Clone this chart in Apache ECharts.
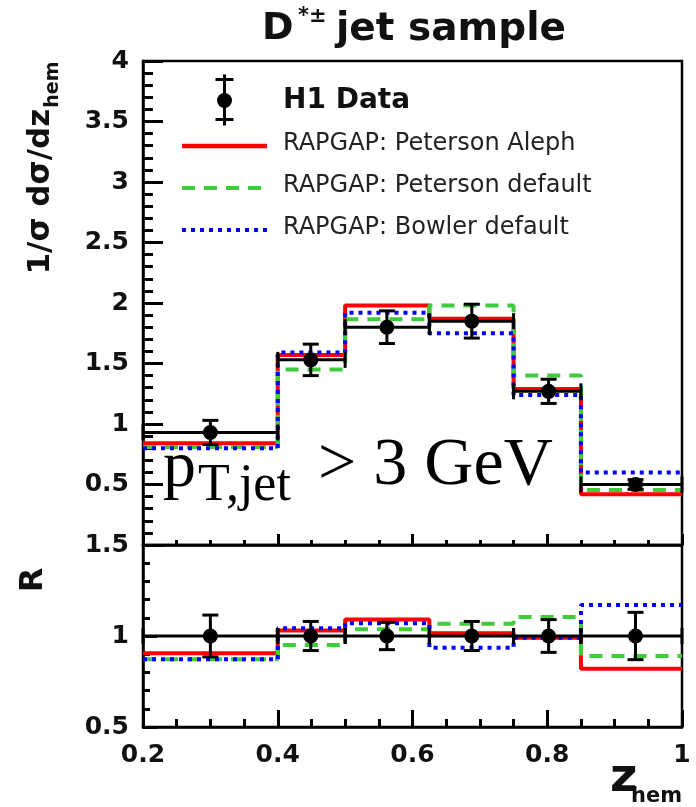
<!DOCTYPE html>
<html>
<head>
<meta charset="utf-8">
<script src="https://cdn.jsdelivr.net/npm/echarts@6/dist/echarts.min.js"></script>
<style>
  html, body { margin: 0; padding: 0; background: #fff; }
  #chart { width: 696px; height: 807px; }
</style>
</head>
<body>
<div id="chart"></div>
<script>
// z_hem binning and measured distributions
const binEdges = [0.2, 0.4, 0.5, 0.625, 0.75, 0.85, 1.0];
const dataX = [0.30, 0.449, 0.562, 0.688, 0.802, 0.931];
const dataY = [0.93, 1.53, 1.80, 1.85, 1.27, 0.50];
const dataErr = [0.10, 0.13, 0.135, 0.14, 0.10, 0.04];

// RAPGAP predictions, normalised cross sections
const petersonAleph = [0.84, 1.57, 1.98, 1.87, 1.29, 0.42];
const petersonDefault = [0.81, 1.45, 1.865, 1.98, 1.40, 0.455];
const bowlerDefault = [0.80, 1.59, 1.92, 1.75, 1.24, 0.60];

// Ratio panel R
const ratioData = [1, 1, 1, 1, 1, 1];
const ratioErr = [0.115, 0.08, 0.075, 0.08, 0.09, 0.13];
const ratioAleph = [0.905, 1.03, 1.09, 1.015, 0.99, 0.82];
const ratioPetDefault = [0.872, 0.95, 1.037, 1.067, 1.105, 0.89];
const ratioBowler = [0.872, 1.042, 1.07, 0.936, 0.99, 1.17];

// Tick labels
const xTickValues = [0.2, 0.4, 0.6, 0.8, 1.0];
const xTickLabels = ['0.2', '0.4', '0.6', '0.8', '1'];
const yTopTickValues = [0.5, 1, 1.5, 2, 2.5, 3, 3.5, 4];
const yTopTickLabels = ['0.5', '1', '1.5', '2', '2.5', '3', '3.5', '4'];
const yRatioTickValues = [0.5, 1, 1.5];
const yRatioTickLabels = ['0.5', '1', '1.5'];

const legendNames = ['H1 Data', 'RAPGAP: Peterson Aleph', 'RAPGAP: Peterson default', 'RAPGAP: Bowler default'];

const FONT = '"DejaVu Sans", sans-serif';
const SERIF = '"Liberation Serif", "Times New Roman", serif';
const RED = '#ff0000', GREEN = '#3ccc3c', BLUE = '#0000ff';

function lookupLabel(values, labels) {
  return function (v) {
    const i = values.findIndex(t => Math.abs(t - v) < 1e-6);
    return i < 0 ? '' : labels[i];
  };
}

// Histogram outline: one point per lower bin edge, plus the last upper edge
function histPoints(vals) {
  const pts = vals.map((v, i) => [binEdges[i], v]);
  pts.push([binEdges[binEdges.length - 1], vals[vals.length - 1]]);
  return pts;
}

function errItems(xs, ys, errs) {
  return xs.map((x, i) => [x, ys[i], errs[i], binEdges[i], binEdges[i + 1]]);
}

// Data points with ROOT-style E1 error bars (bin-width bars and end marks)
function renderErr(params, api) {
  const x = api.value(0), y = api.value(1), e = api.value(2);
  const lo = api.value(3), hi = api.value(4);
  const pL = api.coord([lo, y]);
  const pR = api.coord([hi, y]);
  const pT = api.coord([x, y + e]);
  const pB = api.coord([x, y - e]);
  const cap = 8, tick = 8;
  const st = { stroke: '#000', lineWidth: 3, fill: null };
  const line = (x1, y1, x2, y2) => ({ type: 'line', shape: { x1, y1, x2, y2 }, style: st });
  return {
    type: 'group',
    children: [
      line(pL[0], pL[1], pR[0], pR[1]),
      line(pL[0], pL[1] - tick, pL[0], pL[1] + tick),
      line(pR[0], pR[1] - tick, pR[0], pR[1] + tick),
      line(pT[0], pT[1], pB[0], pB[1]),
      line(pT[0] - cap, pT[1], pT[0] + cap, pT[1]),
      line(pB[0] - cap, pB[1], pB[0] + cap, pB[1])
    ]
  };
}

function xAxisFor(gridIndex, showLabels, majorLen, minorLen) {
  return {
    type: 'value', gridIndex, min: 0.2, max: 1, interval: 0.2,
    axisLine: { show: true, onZero: false, lineStyle: { color: '#000', width: 2.5 } },
    axisTick: { show: true, inside: true, length: majorLen, lineStyle: { color: '#000', width: 3 } },
    minorTick: { show: true, splitNumber: 4, length: minorLen, lineStyle: { color: '#000', width: 3 } },
    splitLine: { show: false },
    minorSplitLine: { show: false },
    axisLabel: {
      show: showLabels, margin: 16, fontFamily: FONT, fontWeight: 'bold', fontSize: 25, color: '#111',
      formatter: lookupLabel(xTickValues, xTickLabels)
    }
  };
}

function yAxisFor(gridIndex, min, max, majorLen, minorLen, values, labels) {
  return {
    type: 'value', gridIndex, min, max, interval: 0.5,
    axisLine: { show: true, onZero: false, lineStyle: { color: '#000', width: 2.5 } },
    axisTick: { show: true, inside: true, length: majorLen, lineStyle: { color: '#000', width: 3 } },
    minorTick: { show: true, splitNumber: 5, length: minorLen, lineStyle: { color: '#000', width: 3 } },
    splitLine: { show: false },
    minorSplitLine: { show: false },
    axisLabel: {
      show: true, margin: 14, fontFamily: FONT, fontWeight: 'bold', fontSize: 25, color: '#111',
      formatter: lookupLabel(values, labels)
    }
  };
}

function mcLine(name, vals, color, type, xi, yi, z) {
  return {
    name, type: 'line', xAxisIndex: xi, yAxisIndex: yi, step: 'end',
    data: histPoints(vals), symbol: 'none', z,
    lineStyle: { color, width: 4, type, cap: 'butt' },
    silent: true, animation: false
  };
}

function dataSeries(xs, ys, errs, xi, yi) {
  return [
    {
      name: 'H1 Data', type: 'custom', xAxisIndex: xi, yAxisIndex: yi,
      data: errItems(xs, ys, errs), renderItem: renderErr, z: 10,
      encode: { x: 0, y: 1 }, animation: false, silent: true
    },
    {
      name: 'H1 Data', type: 'scatter', xAxisIndex: xi, yAxisIndex: yi,
      data: xs.map((x, i) => [x, ys[i]]), symbol: 'circle', symbolSize: 15,
      itemStyle: { color: '#000', opacity: 1 }, z: 11, animation: false, silent: true
    }
  ];
}

const chart = echarts.init(document.getElementById('chart'), null, { renderer: 'canvas' });

const option = {
  backgroundColor: '#fff',
  animation: false,
  grid: [
    { left: 143, top: 61, width: 539, height: 484, show: true, borderColor: '#000', borderWidth: 2.5, backgroundColor: 'transparent' },
    { left: 143, top: 545, width: 539, height: 182, show: true, borderColor: '#000', borderWidth: 2.5, backgroundColor: 'transparent' }
  ],
  xAxis: [
    xAxisFor(0, false, 11, 5),
    xAxisFor(1, true, 17, 8)
  ],
  yAxis: [
    yAxisFor(0, 0, 4, 20, 10, yTopTickValues, yTopTickLabels),
    yAxisFor(1, 0.5, 1.5, 14, 7, yRatioTickValues, yRatioTickLabels)
  ],
  series: [
    mcLine(legendNames[1], petersonAleph, RED, 'solid', 0, 0, 2),
    mcLine(legendNames[2], petersonDefault, GREEN, [13, 9], 0, 0, 3),
    mcLine(legendNames[3], bowlerDefault, BLUE, [4, 5], 0, 0, 4),
    ...dataSeries(dataX, dataY, dataErr, 0, 0),
    mcLine(legendNames[1], ratioAleph, RED, 'solid', 1, 1, 2),
    mcLine(legendNames[2], ratioPetDefault, GREEN, [13, 9], 1, 1, 3),
    mcLine(legendNames[3], ratioBowler, BLUE, [4, 5], 1, 1, 4),
    ...dataSeries(dataX, ratioData, ratioErr, 1, 1)
  ],
  graphic: [
    // title
    { type: 'text', left: 262, top: 10, style: { text: 'D', font: 'bold 38px ' + FONT, fill: '#111' } },
    { type: 'text', left: 298, top: 6, style: { text: '*±', font: 'bold 21px ' + FONT, fill: '#111' } },
    { type: 'text', left: 336, top: 10, style: { text: 'jet sample', font: 'bold 39px ' + FONT, fill: '#111' } },
    // y-axis titles
    {
      type: 'text', x: 41, y: 168, rotation: Math.PI / 2,
      style: {
        text: '1/σ dσ/dz{s|hem}', textAlign: 'center', textVerticalAlign: 'middle',
        font: 'bold 31px ' + FONT, fill: '#111',
        rich: { s: { font: 'bold 19px ' + FONT, fill: '#111', padding: [24, 0, 0, 1] } }
      }
    },
    {
      type: 'text', x: 34, y: 580, rotation: Math.PI / 2,
      style: { text: 'R', textAlign: 'center', textVerticalAlign: 'middle', font: 'bold 32px ' + FONT, fill: '#111' }
    },
    // x-axis title
    { type: 'text', left: 610, top: 755, style: { text: 'z', font: 'bold 47px ' + FONT, fill: '#111' } },
    { type: 'text', left: 631, top: 786, style: { text: 'hem', font: 'bold 21px ' + FONT, fill: '#111' } },
    // legend: data marker
    {
      type: 'group', left: 213, top: 72,
      children: [
        { type: 'line', shape: { x1: 11, y1: 0, x2: 11, y2: 51 }, style: { stroke: '#000', lineWidth: 3 } },
        { type: 'line', shape: { x1: 2, y1: 5, x2: 20, y2: 5 }, style: { stroke: '#000', lineWidth: 3 } },
        { type: 'line', shape: { x1: 2, y1: 45, x2: 20, y2: 45 }, style: { stroke: '#000', lineWidth: 3 } },
        { type: 'circle', shape: { cx: 11, cy: 26, r: 7.5 }, style: { fill: '#000' } }
      ]
    },
    { type: 'text', left: 283, top: 87, style: { text: legendNames[0], font: 'bold 28px ' + FONT, fill: '#111' } },
    { type: 'line', shape: { x1: 182, y1: 146, x2: 267, y2: 146 }, style: { stroke: RED, lineWidth: 4.5 } },
    { type: 'text', left: 283, top: 132, style: { text: legendNames[1], font: '24px ' + FONT, fill: '#222' } },
    { type: 'line', shape: { x1: 182, y1: 188, x2: 267, y2: 188 }, style: { stroke: GREEN, lineWidth: 4, lineDash: [13, 9] } },
    { type: 'text', left: 283, top: 174, style: { text: legendNames[2], font: '24px ' + FONT, fill: '#222' } },
    { type: 'line', shape: { x1: 182, y1: 230, x2: 267, y2: 230 }, style: { stroke: BLUE, lineWidth: 4, lineDash: [4, 5] } },
    { type: 'text', left: 283, top: 216, style: { text: legendNames[3], font: '24px ' + FONT, fill: '#222' } },
    // kinematic cut annotation
    { type: 'text', left: 163, top: 436, style: { text: 'p', font: '66px ' + SERIF, fill: '#000' } },
    { type: 'text', left: 198, top: 460, style: { text: 'T,jet', font: '52px ' + SERIF, fill: '#000' } },
    { type: 'text', left: 318, top: 432, style: { text: '> 3 GeV', font: '68px ' + SERIF, fill: '#000' } }
  ]
};

chart.setOption(option);
</script>
</body>
</html>
